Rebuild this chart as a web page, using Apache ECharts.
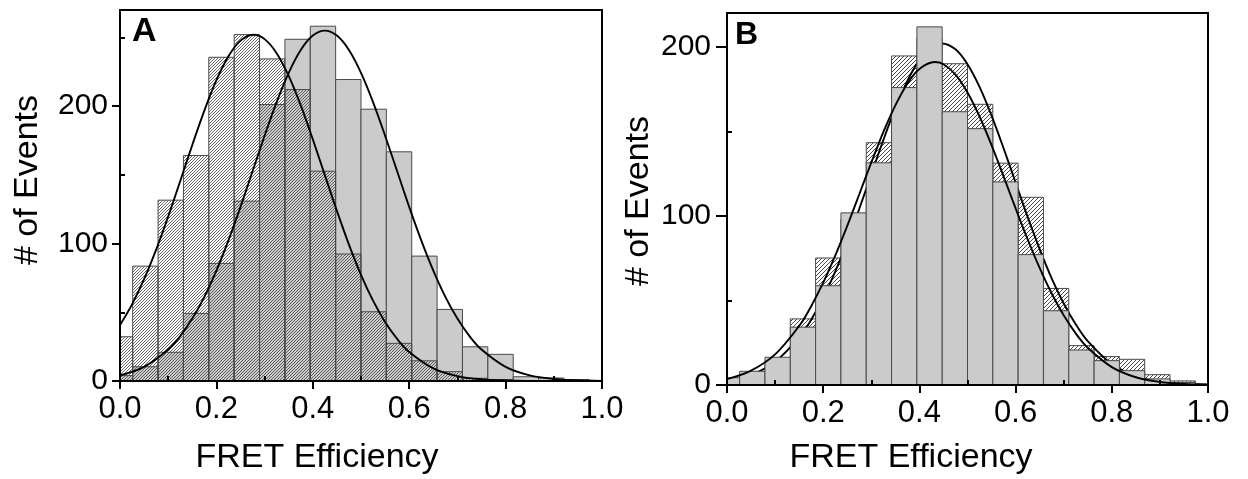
<!DOCTYPE html>
<html><head><meta charset="utf-8">
<script src="https://cdn.jsdelivr.net/npm/echarts@6/dist/echarts.min.js"></script>
<style>html,body{margin:0;padding:0;background:#fff}#c{width:1248px;height:479px}</style>
</head><body><div id="c"></div>
<script>
// ---- data ----
const binCenters = [0, 0.0526, 0.1053, 0.1579, 0.2105, 0.2632, 0.3158, 0.3684, 0.4211, 0.4737,
                    0.5263, 0.5789, 0.6316, 0.6842, 0.7368, 0.7895, 0.8421, 0.8947, 0.9474, 1.0];
const binWidth = 0.0526;
const aHatched = [32.2, 83.6, 131.6, 164.1, 235.6, 252.1, 234.4, 212.1, 152.7, 92.4, 50.4, 27.4, 14.7, 6.8, 2, 1, 0.3, 0, 0, 0];
const aGray    = [3.9, 10.4, 20.9, 49.2, 85.6, 130.9, 201.2, 248.7, 258.2, 219.4, 197.8, 166.8, 90.9, 52.1, 24.9, 19.4, 3.1, 2.2, 1, 0];
const bHatched = [3, 6, 14, 39.1, 75.1, 98, 143.3, 194.6, 205, 190, 166, 131.2, 111, 57.1, 23.3, 16.8, 15.2, 6.1, 2.4, 0.5];
const bGray    = [4.3, 8.1, 16.4, 34.2, 58.7, 101.8, 131.4, 175.9, 211.8, 161.6, 151.6, 120.1, 77.1, 43.9, 20.7, 14.4, 8.5, 3.6, 1.5, 0.3];

const aFitHatchedX = [0,0.025,0.05,0.075,0.1,0.125,0.15,0.175,0.2,0.225,0.25,0.277,0.3,0.325,0.35,0.375,0.4,0.425,0.45,0.475,0.5,0.525,0.55,0.575,0.6,0.65,0.7,0.75,0.8,0.85,0.9,0.95,1.0];
const aFitHatchedY = [40.7,55.8,74.1,95.6,119.7,145.6,171.8,196.8,218.9,236.3,247.7,252,248.8,238.6,222.0,200.6,175.9,149.8,123.8,99.3,77.3,58.5,42.9,30.6,21.1,9.2,3.6,1.2,0.4,0.1,0,0,0];
const aFitGrayX = [0,0.05,0.1,0.125,0.15,0.175,0.2,0.225,0.25,0.275,0.3,0.325,0.35,0.375,0.4,0.425,0.45,0.475,0.5,0.525,0.55,0.575,0.6,0.625,0.65,0.675,0.7,0.725,0.75,0.8,0.85,0.9,0.95,1.0];
const aFitGrayY = [4.1,10.3,22.9,32.7,45.4,61.2,80.3,102.3,126.7,152.6,178.5,203.0,224.3,240.9,251.4,255,251.4,240.9,224.3,203.0,178.5,152.6,126.7,102.3,80.3,61.2,45.4,32.7,22.9,10.3,4.1,1.5,0.5,0.1];
const bFitHatchedX = [0,0.05,0.1,0.15,0.175,0.2,0.225,0.25,0.275,0.3,0.325,0.35,0.375,0.4,0.425,0.447,0.475,0.5,0.525,0.55,0.575,0.6,0.625,0.65,0.675,0.7,0.725,0.75,0.8,0.85,0.9,0.95,1.0];
const bFitHatchedY = [2.3,5.9,13.7,28.1,38.6,51.6,67.1,84.8,104.2,124.6,144.8,163.7,179.9,192.3,199.8,202,198.5,189.7,176.3,159.3,140.0,119.7,99.4,80.4,63.1,48.2,35.9,25.9,12.4,5.3,2.0,0.7,0.2];
const bFitGrayX = [0,0.05,0.1,0.15,0.175,0.2,0.225,0.25,0.275,0.3,0.325,0.35,0.375,0.4,0.432,0.45,0.475,0.5,0.525,0.55,0.575,0.6,0.625,0.65,0.675,0.7,0.725,0.75,0.8,0.85,0.9,0.95,1.0];
const bFitGrayY = [3.5,8.5,18.1,34.9,46.6,60.5,76.5,94.1,112.8,131.6,149.6,165.4,178.2,186.9,191,189.7,183.6,173.0,158.8,141.9,123.4,104.5,86.2,69.2,54.1,41.2,30.5,22.0,10.6,4.6,1.8,0.6,0.2];

const xMajorTicks = [0, 0.2, 0.4, 0.6, 0.8, 1.0];
const xMinorTicks = [0.1, 0.3, 0.5, 0.7, 0.9];
const yMajorTicksA = [0, 100, 200];
const yMinorTicksA = [50, 150, 250];
const yMajorTicksB = [0, 100, 200];
const yMinorTicksB = [50, 150];
const xTitle = 'FRET Efficiency';
const yTitle = '# of Events';

// ---- styling helpers ----
const FONT = '"Liberation Sans", Arial, Helvetica, sans-serif';
function makeHatch(step, color, lw) {
  const size = step * 4;
  const cv = document.createElement('canvas');
  cv.width = size; cv.height = size;
  const ctx = cv.getContext('2d');
  ctx.strokeStyle = color; ctx.lineWidth = lw;
  for (let c = -step; c <= 2 * size + step; c += step) {
    ctx.beginPath();
    ctx.moveTo(-2, c + 2);
    ctx.lineTo(size + 2, c - size - 2);
    ctx.stroke();
  }
  return {image: cv, repeat: 'repeat'};
}
const hatchA = makeHatch(3, '#404040', 0.8);
const hatchB = makeHatch(4, '#333333', 0.9);
const GRAY = '#cbcbcb';
const EDGE = '#4a4a4a';

function barSeries(values, fill, xi, yi, z) {
  return {
    type: 'custom', xAxisIndex: xi, yAxisIndex: yi, z: z, clip: true, silent: true,
    data: binCenters.map((c, i) => [c, values[i]]),
    renderItem: function (params, api) {
      const c = api.value(0), v = api.value(1);
      const x0 = Math.max(0, c - binWidth / 2), x1 = Math.min(1, c + binWidth / 2);
      const p0 = api.coord([x0, v]);
      const p1 = api.coord([x1, 0]);
      return {type: 'rect', shape: {x: p0[0], y: p0[1], width: p1[0] - p0[0], height: p1[1] - p0[1]},
              style: {fill: fill, stroke: EDGE, lineWidth: 1}};
    }
  };
}
function fitSeries(xs, ys, xi, yi, z) {
  return {
    type: 'line', xAxisIndex: xi, yAxisIndex: yi, z: z, smooth: 0.35,
    showSymbol: false, symbol: 'none', silent: true, clip: true,
    lineStyle: {color: '#000', width: 1.9},
    data: xs.map((x, i) => [x, ys[i]])
  };
}
function xAxes(gi) {
  return [
    {type: 'value', gridIndex: gi, min: 0, max: 1, interval: 0.2, z: 10,
     axisLine: {show: true, lineStyle: {color: '#000', width: 2}},
     axisTick: {show: true, inside: false, length: 8, customValues: xMajorTicks, lineStyle: {color: '#000', width: 2}},
     axisLabel: {show: true, customValues: xMajorTicks, margin: 13, fontSize: 31, fontFamily: FONT, color: '#000',
                 formatter: v => v.toFixed(1)},
     splitLine: {show: false}},
    {type: 'value', gridIndex: gi, min: 0, max: 1, interval: 0.1, z: 10,
     axisLine: {show: false},
     axisTick: {show: true, inside: false, length: 5, customValues: xMinorTicks, lineStyle: {color: '#000', width: 2}},
     axisLabel: {show: false}, splitLine: {show: false}}
  ];
}
function yAxes(gi, max, major, minor, margin, majLen) {
  return [
    {type: 'value', gridIndex: gi, min: 0, max: max, interval: 100, z: 10,
     axisLine: {show: true, lineStyle: {color: '#000', width: 2}},
     axisTick: {show: true, inside: false, length: majLen, customValues: major, lineStyle: {color: '#000', width: 2}},
     axisLabel: {show: true, customValues: major, margin: margin, fontSize: 30, fontFamily: FONT, color: '#000'},
     splitLine: {show: false}},
    {type: 'value', gridIndex: gi, min: 0, max: max, interval: 50, z: 10,
     axisLine: {show: false},
     axisTick: {show: true, inside: false, length: 5, customValues: minor, lineStyle: {color: '#000', width: 2}},
     axisLabel: {show: false}, splitLine: {show: false}}
  ];
}

const chart = echarts.init(document.getElementById('c'), null, {renderer: 'canvas'});
chart.setOption({
  animation: false,
  backgroundColor: '#fff',
  grid: [
    {left: 120, top: 10, width: 482, height: 371, show: true, borderColor: '#000', borderWidth: 2, backgroundColor: 'transparent'},
    {left: 727, top: 13, width: 481, height: 372, show: true, borderColor: '#000', borderWidth: 2, backgroundColor: 'transparent'}
  ],
  xAxis: [...xAxes(0), ...xAxes(1)],
  yAxis: [...yAxes(0, 270, yMajorTicksA, yMinorTicksA, 12, 8), ...yAxes(1, 220, yMajorTicksB, yMinorTicksB, 16, 11)],
  series: [
    barSeries(aGray, GRAY, 0, 0, 2),
    barSeries(aHatched, hatchA, 0, 0, 3),
    fitSeries(aFitHatchedX, aFitHatchedY, 0, 0, 4),
    fitSeries(aFitGrayX, aFitGrayY, 0, 0, 4),
    barSeries(bHatched, hatchB, 2, 2, 2),
    fitSeries(bFitHatchedX, bFitHatchedY, 2, 2, 3),
    barSeries(bGray, GRAY, 2, 2, 4),
    fitSeries(bFitGrayX, bFitGrayY, 2, 2, 5)
  ],
  graphic: [
    {type: 'text', x: 28, y: 180, rotation: Math.PI / 2, z: 20,
     style: {text: yTitle, fontSize: 34, fontFamily: FONT, fill: '#000', align: 'center', verticalAlign: 'middle'}},
    {type: 'text', x: 317, y: 458, z: 20,
     style: {text: xTitle, fontSize: 34, fontFamily: FONT, fill: '#000', align: 'center', verticalAlign: 'middle'}},
    {type: 'text', x: 639, y: 201, rotation: Math.PI / 2, z: 20,
     style: {text: yTitle, fontSize: 34, fontFamily: FONT, fill: '#000', align: 'center', verticalAlign: 'middle'}},
    {type: 'text', x: 911, y: 458, z: 20,
     style: {text: xTitle, fontSize: 34, fontFamily: FONT, fill: '#000', align: 'center', verticalAlign: 'middle'}},
    {type: 'text', x: 132, y: 32, z: 20,
     style: {text: 'A', fontSize: 34, fontWeight: 'bold', fontFamily: FONT, fill: '#000', align: 'left', verticalAlign: 'middle'}},
    {type: 'text', x: 735, y: 35, z: 20,
     style: {text: 'B', fontSize: 32, fontWeight: 'bold', fontFamily: FONT, fill: '#000', align: 'left', verticalAlign: 'middle'}}
  ]
});
</script>
</body></html>
